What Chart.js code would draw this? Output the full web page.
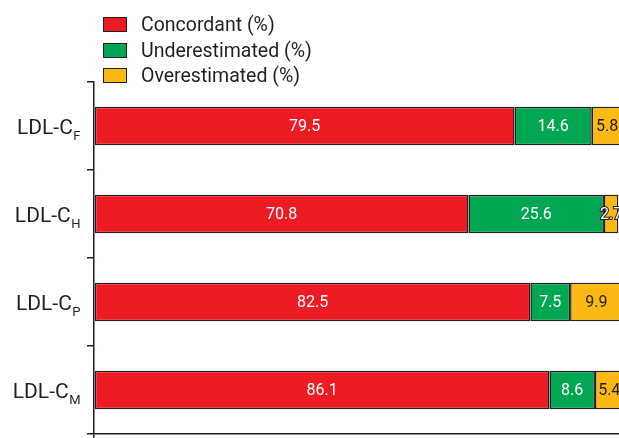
<!DOCTYPE html>
<html>
<head>
<meta charset="utf-8">
<script src="https://cdn.jsdelivr.net/npm/chart.js@4"></script>
<style>
  html, body { margin: 0; padding: 0; overflow: hidden; background: #fff; }
  #wrap { position: relative; width: 623px; height: 438px; }
  #legend { position: absolute; left: 103px; top: 12px; font-family: Roboto, sans-serif; font-size: 19.5px; color: #231f20; }
  .item { display: flex; align-items: center; height: 25.5px; }
  .box { width: 22px; height: 13px; border: 1.5px solid #231f20; margin-right: 14px; }
</style>
</head>
<body>
<div id="wrap">
  <canvas id="chart" width="623" height="438"></canvas>
  <div id="legend"></div>
</div>
<script>
const labelBase = 'LDL-C';
const subscripts = ['F', 'H', 'P', 'M'];
const seriesNames = ['Concordant (%)', 'Underestimated (%)', 'Overestimated (%)'];
const concordant = [79.5, 70.8, 82.5, 86.1];
const underestimated = [14.6, 25.6, 7.5, 8.6];
const overestimated = [5.8, 2.7, 9.9, 5.4];
const colors = ['#ed1c24', '#00a651', '#fdb913'];
const ink = '#231f20';

// category labels with a subscript, drawn next to the y axis
const subLabels = {
  id: 'subLabels',
  afterDraw(chart) {
    const ctx = chart.ctx;
    const y = chart.scales.y;
    ctx.save();
    ctx.fillStyle = ink;
    ctx.textBaseline = 'alphabetic';
    ctx.textAlign = 'left';
    chart.data.labels.forEach((lab, i) => {
      const py = y.getPixelForValue(i);
      ctx.font = '21px Roboto';
      const w1 = ctx.measureText(labelBase).width;
      ctx.font = '13px Roboto';
      const w2 = ctx.measureText(subscripts[i]).width;
      const x0 = 80 - w1 - w2;
      ctx.font = '21px Roboto';
      ctx.fillText(labelBase, x0, py + 8);
      ctx.font = '13px Roboto';
      ctx.fillText(subscripts[i], x0 + w1 + 0.5, py + 13.5);
    });
    ctx.restore();
  },
};

// values written inside each segment
const valueLabels = {
  id: 'valueLabels',
  afterDatasetsDraw(chart) {
    const ctx = chart.ctx;
    ctx.save();
    ctx.font = '16px Roboto';
    ctx.textAlign = 'center';
    ctx.textBaseline = 'middle';
    chart.data.datasets.forEach((ds, di) => {
      chart.getDatasetMeta(di).data.forEach((bar, i) => {
        const txt = ds.data[i].toFixed(1);
        const cx = (bar.x + bar.base) / 2;
        const segW = Math.abs(bar.x - bar.base);
        const tw = ctx.measureText(txt).width;
        if (di === 2 && tw > segW) {
          ctx.lineWidth = 2;
          ctx.strokeStyle = ink;
          ctx.strokeText(txt, cx, bar.y + 1);
          ctx.fillStyle = '#fff';
        } else {
          ctx.fillStyle = di === 2 ? ink : '#fff';
        }
        ctx.fillText(txt, cx, bar.y + 1);
      });
    });
    ctx.restore();
  },
};

const chart = new Chart(document.getElementById('chart'), {
  type: 'bar',
  data: {
    labels: subscripts.map((s) => labelBase + s),
    datasets: [concordant, underestimated, overestimated].map((d, i) => ({
      label: seriesNames[i],
      data: d,
      backgroundColor: colors[i],
      borderColor: ink,
      borderWidth: 1.5,
      borderSkipped: false,
      categoryPercentage: 1,
      barPercentage: 0.44,
    })),
  },
  options: {
    indexAxis: 'y',
    responsive: false,
    animation: false,
    layout: { padding: { top: 82, left: 0, right: 0, bottom: 0 } },
    plugins: {
      legend: { display: false },
      tooltip: { enabled: false },
    },
    scales: {
      x: {
        stacked: true,
        min: 0,
        max: 100,
        ticks: { display: false },
        grid: {
          drawOnChartArea: false,
          tickLength: 4,
          lineWidth: 1.5,
          color: (c) => (c.tick && c.tick.value === 0 ? ink : 'rgba(0,0,0,0)'),
        },
        border: { color: ink, width: 1.5 },
        afterFit: (s) => { s.height = 4; },
      },
      y: {
        stacked: true,
        ticks: { display: false },
        grid: {
          offset: true,
          drawOnChartArea: false,
          tickLength: 7,
          lineWidth: 1.5,
          color: ink,
        },
        border: { color: ink, width: 1.5 },
        afterFit: (s) => { s.width = 94; },
      },
    },
  },
  plugins: [subLabels, valueLabels],
});

// legend as html, built from the datasets
const legend = document.getElementById('legend');
chart.data.datasets.forEach((ds) => {
  const row = document.createElement('div');
  row.className = 'item';
  const box = document.createElement('div');
  box.className = 'box';
  box.style.background = ds.backgroundColor;
  const txt = document.createElement('span');
  txt.textContent = ds.label;
  row.appendChild(box);
  row.appendChild(txt);
  legend.appendChild(row);
});
</script>
</body>
</html>
